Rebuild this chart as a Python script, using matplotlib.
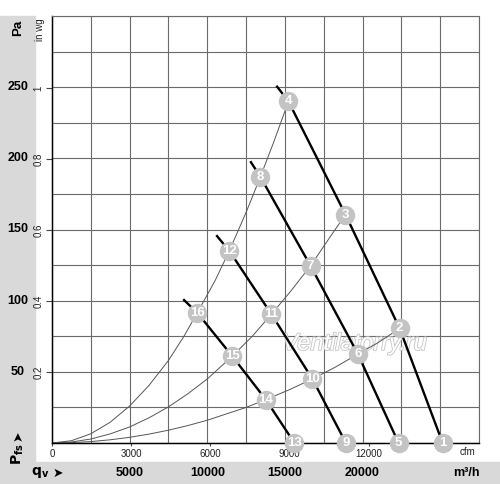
import matplotlib
matplotlib.use('Agg')
import matplotlib.pyplot as plt
import matplotlib.patheffects as pe
from matplotlib.patches import Rectangle

plt.rcParams['font.family'] = ['Liberation Sans', 'DejaVu Sans']

# system curves (m3/h, Pa)
sys1_q = [0, 1250, 2500, 3750, 5000, 6250, 7500, 8500, 9355, 10500, 11420, 12500, 13420, 14300, 15230]
sys1_p = [0, 1.6, 6.5, 14.6, 26, 40.5, 58, 75, 91.5, 114, 135, 162, 187, 212, 240]
sys2_q = [0, 1250, 2500, 3750, 5000, 6250, 7500, 8750, 10000, 11610, 12900, 14130, 15400, 16650, 17800, 18900]
sys2_p = [0, 0.7, 2.8, 6.4, 11.3, 17.7, 25.4, 34.6, 45, 61, 75, 90.5, 107, 124.5, 143, 160.5]
sys3_q = [0, 1250, 2500, 3750, 5000, 6250, 7500, 8750, 10000, 12500, 13770, 15300, 16770, 18200, 19700, 21000, 22390]
sys3_p = [0, 0.25, 1, 2.25, 4, 6.25, 9, 12.25, 16, 25, 30.5, 37.5, 45, 53, 62.5, 70.5, 80.5]

# fan curves at four speeds
fan1_q = [14450, 15230, 18900, 22390, 25160]
fan1_p = [251, 240, 160.5, 80.5, 0]
fan2_q = [12770, 13420, 16650, 19700, 22320]
fan2_p = [198, 187, 124.5, 62.5, 0]
fan3_q = [10580, 11420, 14130, 16770, 18930]
fan3_p = [146, 135, 90.5, 45, 0]
fan4_q = [8450, 9355, 11610, 13770, 15610]
fan4_p = [101, 91.5, 61, 30.5, 0]

# numbered operating points
pt_num = list(range(1, 17))
pt_q = [25160, 22390, 18900, 15230, 22320, 19700, 16650, 13420,
        18930, 16770, 14130, 11420, 15610, 13770, 11610, 9355]
pt_p = [0, 80.5, 160.5, 240, 0, 62.5, 124.5, 187,
        0, 45, 90.5, 135, 0, 30.5, 61, 91.5]

pa_ticks = [50, 100, 150, 200, 250]
m3h_ticks = [5000, 10000, 15000, 20000]
inwg_ticks = [0.2, 0.4, 0.6, 0.8, 1]
cfm_ticks = [0, 3000, 6000, 9000, 12000]

W, H = 500, 484
fig = plt.figure(figsize=(W / 100, H / 100), dpi=100)

def fx(x):
    return x / W

def fy(y):
    return 1 - y / H

band = '#d9d9d9'
fig.add_artist(Rectangle((0, 0), fx(35), fy(16), transform=fig.transFigure, color=band, zorder=0))
fig.add_artist(Rectangle((0, 0), 1, 22 / H, transform=fig.transFigure, color=band, zorder=0))

ax = fig.add_axes([fx(52), fy(443), (479 - 52) / W, (443 - 16) / H])
ax.set_xlim(0, 27500)
ax.set_ylim(0, 300)
ax.set_xticks(range(0, 27501, 2500))
ax.set_yticks(range(0, 301, 25))
ax.tick_params(length=0, labelbottom=False, labelleft=False)
ax.grid(True, color='#6a6a6a', lw=0.8)
ax.set_axisbelow(True)
for s in ['top', 'right']:
    ax.spines[s].set_color('#6a6a6a')
    ax.spines[s].set_linewidth(0.8)
for s in ['left', 'bottom']:
    ax.spines[s].set_color('black')
    ax.spines[s].set_linewidth(1.0)

# watermark
ax.text(19500, 70, 'Ventilatorry.ru', fontsize=17, style='italic', color='white',
        ha='center', va='center', zorder=1.5,
        path_effects=[pe.withStroke(linewidth=1.3, foreground='#c8c8c8')])

for q, p in [(sys1_q, sys1_p), (sys2_q, sys2_p), (sys3_q, sys3_p)]:
    ax.plot(q, p, color='#555555', lw=0.7, zorder=2)

for q, p in [(fan1_q, fan1_p), (fan2_q, fan2_p), (fan3_q, fan3_p), (fan4_q, fan4_p)]:
    ax.plot(q, p, color='black', lw=1.7, zorder=3, solid_capstyle='butt')

ax.plot(pt_q, pt_p, 'o', ms=14, mfc='#c3c3c3', mec='none', clip_on=False, zorder=5)
for n, q, p in zip(pt_num, pt_q, pt_p):
    ax.text(q, p, str(n), color='white', fontsize=9.5, fontweight='bold',
            ha='center', va='center', zorder=6, clip_on=False)

# in wg scale on the left
sec_y = ax.secondary_yaxis('left', functions=(lambda p: p / 249.09, lambda w: w * 249.09))
sec_y.set_yticks(inwg_ticks)
sec_y.set_yticklabels(['0.2', '0.4', '0.6', '0.8', '1'], rotation=90, va='center')
sec_y.tick_params(length=4, width=0.8, labelsize=7, pad=2, color='#444444', labelcolor='#222222')
fig.text(fx(40), fy(30), 'in wg', rotation=90, fontsize=7, ha='center', va='center', color='#222222')

# cfm scale at the bottom
sec_x = ax.secondary_xaxis('bottom', functions=(lambda q: q / 1.699, lambda c: c * 1.699))
sec_x.set_xticks(cfm_ticks)
sec_x.tick_params(length=2.5, width=0.8, labelsize=7, pad=1.5, color='#444444', labelcolor='#222222')
fig.text(fx(468), fy(452), 'cfm', fontsize=7, ha='center', va='center', color='#222222')

# Pa labels in the grey band
fig.text(fx(18), fy(28), 'Pa', rotation=90, fontsize=9.5, fontweight='bold', ha='center', va='center')
for v in pa_ticks:
    y_px = 443 - v * (427 / 300)
    fig.text(fx(18), fy(y_px), str(v), fontsize=9, fontweight='bold', ha='center', va='center')
fig.text(fx(18), fy(454), r'$\mathbf{P}_{\mathbf{fs}}$', rotation=90, fontsize=10, ha='center', va='center')
fig.text(fx(18), fy(436), '➤', rotation=90, fontsize=9, ha='center', va='center', family='DejaVu Sans')

# m3/h labels in the bottom band
for v in m3h_ticks:
    x_px = 52 + v * (427 / 27500)
    fig.text(fx(x_px), fy(473), str(v), fontsize=9, fontweight='bold', ha='center', va='center')
fig.text(fx(40), fy(472), r'$\mathbf{q}_{\mathbf{v}}$', fontsize=10, ha='center', va='center')
fig.text(fx(58), fy(473), '➤', fontsize=9, ha='center', va='center', family='DejaVu Sans')
fig.text(fx(480), fy(473), 'm³/h', fontsize=9, fontweight='bold', ha='right', va='center')

fig.savefig('out.png', dpi=100)
